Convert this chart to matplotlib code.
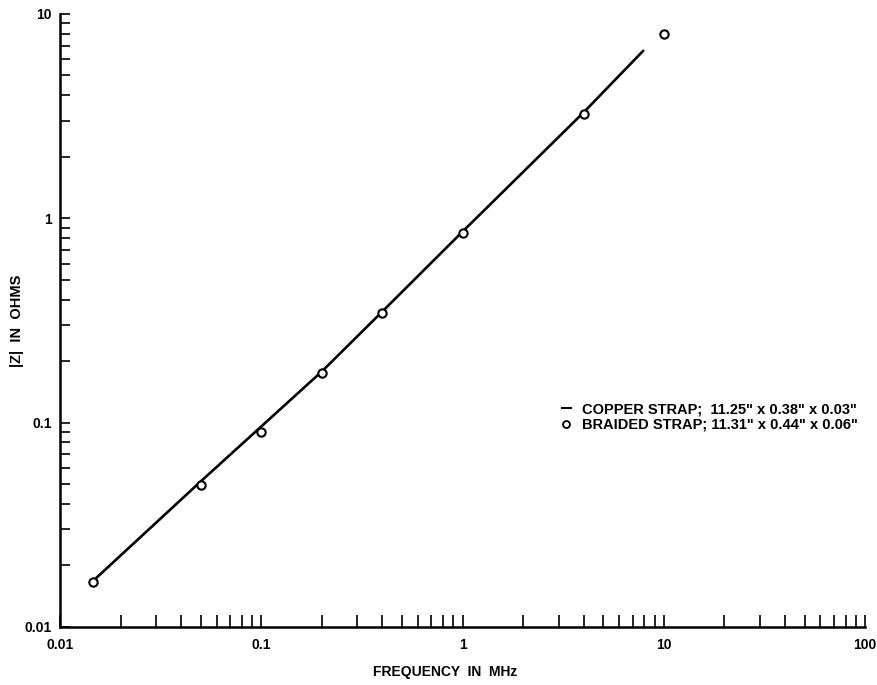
import matplotlib.pyplot as plt
from matplotlib.lines import Line2D

plt.rcParams['font.family'] = ['Liberation Sans', 'DejaVu Sans']
plt.rcParams['font.weight'] = 'bold'

# copper strap (solid line)
copper_f = [0.0146, 0.05, 0.2, 0.4, 1.0, 4.0, 7.9]
copper_z = [0.0168, 0.0515, 0.178, 0.35, 0.86, 3.3, 6.6]

# braided strap (circles)
braid_f = [0.0146, 0.05, 0.1, 0.2, 0.4, 1.0, 4.0, 10.0]
braid_z = [0.0166, 0.0496, 0.090, 0.175, 0.344, 0.849, 3.24, 8.0]

decade_ticks = [0.01, 0.1, 1, 10, 100]
decade_labels = ['0.01', '0.1', '1', '10', '100']

fig = plt.figure(figsize=(8.78, 6.85), dpi=100)
ax = fig.add_axes([0.0683, 0.0847, 0.917, 0.895])

ax.plot(copper_f, copper_z, color='black', lw=1.9, solid_capstyle='round')
ax.plot(braid_f, braid_z, 'o', ms=6, mfc='white', mec='black', mew=1.5)

ax.set_xscale('log')
ax.set_yscale('log')
ax.set_xlim(0.01, 100)
ax.set_ylim(0.01, 10)

ax.spines['top'].set_visible(False)
ax.spines['right'].set_visible(False)
ax.spines['left'].set_linewidth(1.8)
ax.spines['bottom'].set_linewidth(1.8)

ax.set_xticks(decade_ticks)
ax.set_xticklabels(decade_labels)
ax.set_yticks(decade_ticks[:4])
ax.set_yticklabels(decade_labels[:4])

ax.tick_params(axis='x', which='both', direction='in', length=9, width=1.2,
               labelsize=10, pad=8)
ax.tick_params(axis='y', which='both', direction='in', length=7, width=1.2,
               labelsize=10, pad=6)

ax.set_xlabel('FREQUENCY  IN  MHz', fontsize=10, fontweight='bold')
ax.xaxis.set_label_coords(0.478, -0.062)
ax.set_ylabel('|Z|  IN  OHMS', fontsize=10.5, fontweight='bold')
ax.yaxis.set_label_coords(-0.045, 0.5)

handles = [
    Line2D([], [], color='black', lw=1.5),
    Line2D([], [], ls='none', marker='o', ms=5, mfc='white', mec='black', mew=1.3),
]
labels = ['COPPER STRAP;  11.25" x 0.38" x 0.03"',
          'BRAIDED STRAP; 11.31" x 0.44" x 0.06"']
leg = ax.legend(handles, labels, loc='upper left', bbox_to_anchor=(0.607, 0.388),
                frameon=False, handlelength=0.6, handletextpad=0.8,
                labelspacing=0.12, prop={'size': 10.5, 'weight': 'bold'})

fig.savefig('out.png', dpi=100)
